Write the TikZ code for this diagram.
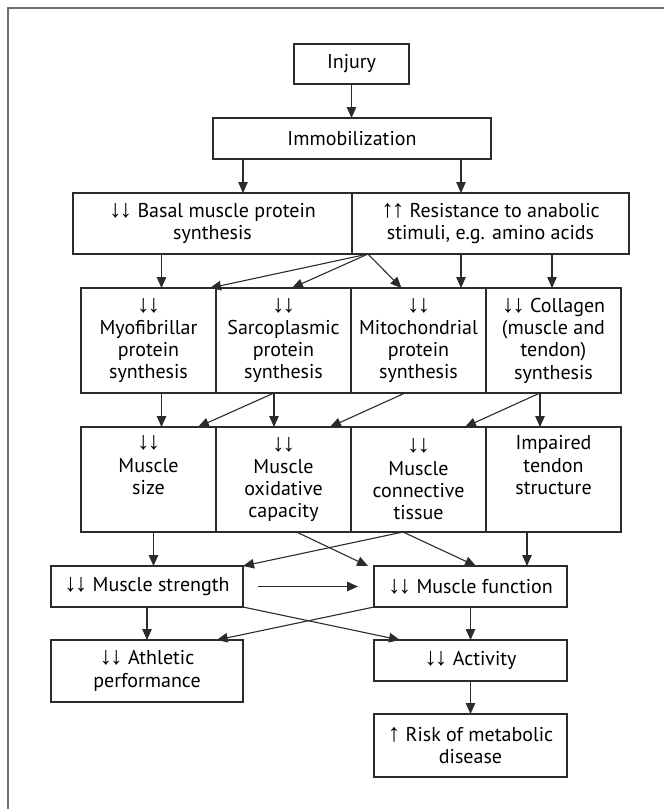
\documentclass[tikz,border=0pt]{standalone}
\usepackage{fontspec}
\setmainfont{PT Sans}
\newfontfamily\arrfont{Liberation Sans}
\usetikzlibrary{arrows.meta}
\definecolor{edge}{HTML}{2B2B2B}
\definecolor{framegray}{HTML}{6E6E6E}
\newcommand{\ddarr}{{\arrfont\fontsize{25}{22.3}\selectfont ↓\kern-2pt↓}}
\newcommand{\uuarr}{{\arrfont\fontsize{25}{22.3}\selectfont ↑\kern-2pt↑}}
\newcommand{\uarr}{{\arrfont\fontsize{25}{22.3}\selectfont ↑}}
\begin{document}
\begin{tikzpicture}[x=1pt,y=-1pt,
  box/.style={draw=edge, line width=1.1pt, inner sep=0pt, outer sep=0pt,
    align=center, font=\fontsize{20}{22.3}\selectfont, text=black},
  arr/.style={draw=edge, line width=1.1pt, -{Triangle[length=11pt,width=9.5pt]}}]
\useasboundingbox (0,0) rectangle (664,809);
\draw[framegray, line width=1.5pt] (8,809) -- (8,8) -- (664,8);

% top
\node[box, minimum width=115pt, minimum height=40pt] (inj) at (351.5,64) {Injury};
\node[box, minimum width=278pt, minimum height=41pt] (imm) at (352,138.5) {Immobilization};
\node[box, minimum width=279pt, minimum height=61pt] (basal) at (212.5,223.5) {\ddarr{} Basal muscle protein\\synthesis};
\node[box, minimum width=277pt, minimum height=61pt] (resist) at (490.5,223.5) {\uuarr{} Resistance to anabolic\\stimuli, e.g. amino acids};

% row 4
\node[box, minimum width=135pt, minimum height=105pt] (myo) at (148.5,340.5) {\ddarr\\Myofibrillar\\protein\\synthesis};
\node[box, minimum width=135pt, minimum height=105pt] (sarco) at (283.5,340.5) {\ddarr\\Sarcoplasmic\\protein\\synthesis};
\node[box, minimum width=135pt, minimum height=105pt] (mito) at (418.5,340.5) {\ddarr\\Mitochondrial\\protein\\synthesis};
\node[box, minimum width=135pt, minimum height=105pt] (coll) at (553.5,340.5) {\ddarr{} Collagen\\(muscle and\\tendon)\\synthesis};

% row 5
\node[box, minimum width=135pt, minimum height=105pt] (size) at (148.5,479.5) {\ddarr\\Muscle\\size\\\strut};
\node[box, minimum width=135pt, minimum height=105pt] (oxid) at (283.5,479.5) {\ddarr\\Muscle\\oxidative\\capacity};
\node[box, minimum width=135pt, minimum height=105pt] (conn) at (418.5,479.5) {\ddarr\\Muscle\\connective\\tissue};
\node[box, minimum width=135pt, minimum height=105pt] (tendon) at (553.5,479.5) {Impaired\\tendon\\structure\\\strut};

% row 6
\node[box, minimum width=192pt, minimum height=41pt] (strength) at (147,586.5) {\ddarr{} Muscle strength};
\node[box, minimum width=193pt, minimum height=41pt] (func) at (470.5,586.5) {\ddarr{} Muscle function};

% row 7, 8
\node[box, minimum width=192pt, minimum height=62pt] (ath) at (147,671) {\ddarr{} Athletic\\performance};
\node[box, minimum width=193pt, minimum height=41pt] (act) at (470.5,660.5) {\ddarr{} Activity};
\node[box, minimum width=193pt, minimum height=63pt] (risk) at (470.5,745.5) {\uarr{} Risk of metabolic\\disease};

% arrows top
\draw[arr] (inj.south) -- (inj.south |- imm.north);
\draw[arr] ([xshift=-109pt]imm.south) -- ([xshift=-109pt]imm.south |- basal.north);
\draw[arr] ([xshift=109pt]imm.south) -- ([xshift=109pt]imm.south |- resist.north);

% row 3 -> row 4
\draw[arr] ([xshift=-51pt]basal.south) -- ([xshift=-51pt]basal.south |- myo.north);
\draw[arr] ([xshift=16pt]resist.south west) -- ([xshift=-6pt]myo.north east);
\draw[arr] ([xshift=16pt]resist.south west) -- ([xshift=8.5pt]sarco.north);
\draw[arr] ([xshift=16pt]resist.south west) -- ([xshift=-17pt]mito.north);
\draw[arr] ([xshift=-29.5pt]resist.south) -- ([xshift=-29.5pt]resist.south |- mito.north);
\draw[arr] ([xshift=61.5pt]resist.south) -- ([xshift=61.5pt]resist.south |- coll.north);

% row 4 -> row 5
\draw[arr] ([xshift=13pt]myo.south) -- ([xshift=13pt]myo.south |- size.north);
\draw[arr] ([xshift=-9.5pt]sarco.south) -- ([xshift=49.5pt]size.north);
\draw[arr] ([xshift=-9.5pt]sarco.south) -- ([xshift=-9.5pt]sarco.south |- oxid.north);
\draw[arr] ([xshift=-13.5pt]mito.south) -- ([xshift=46.5pt]oxid.north);
\draw[arr] ([xshift=-13.5pt]coll.south) -- ([xshift=46.5pt]conn.north);
\draw[arr] ([xshift=-13.5pt]coll.south) -- ([xshift=-13.5pt]coll.south |- tendon.north);

% row 5 -> row 6
\draw[arr] ([xshift=5pt]size.south) -- ([xshift=5pt]size.south |- strength.north);
\draw[arr] ([xshift=13pt]oxid.south) -- ([xshift=-6pt]func.north west);
\draw[arr] ([xshift=-15.5pt]conn.south) -- (strength.north east);
\draw[arr] ([xshift=-15.5pt]conn.south) -- ([xshift=5.5pt]func.north);
\draw[arr] ([xshift=-26.5pt]tendon.south) -- ([xshift=-26.5pt]tendon.south |- func.north);
\draw[arr] ([xshift=15pt]strength.east) -- ([xshift=-16pt]func.west);

% row 6 -> row 7
\draw[arr] (strength.south) -- (ath.north);
\draw[arr] (strength.south east) -- ([xshift=-70.5pt]act.north);
\draw[arr] (func.south west) -- ([xshift=69.7pt]ath.north);
\draw[arr] (func.south) -- (act.north);
\draw[arr] (act.south) -- (risk.north);
\end{tikzpicture}
\end{document}
